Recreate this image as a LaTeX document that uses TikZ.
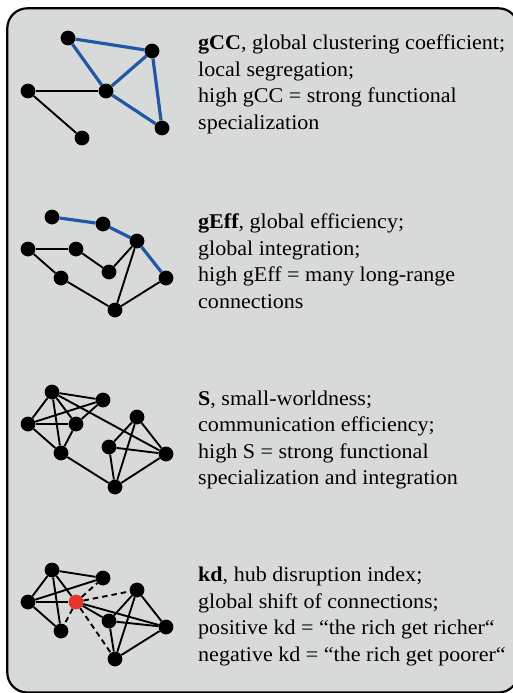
\documentclass[tikz,border=0pt]{standalone}
\usepackage{fontspec}
\setmainfont{Liberation Serif}[FakeStretch=1.05]
\definecolor{panel}{RGB}{216,218,218}
\definecolor{edgeblue}{RGB}{33,87,165}
\definecolor{hubred}{RGB}{232,50,45}
\begin{document}
\begin{tikzpicture}[x=1pt,y=-1pt,
  dot/.style={circle,fill=black,inner sep=0pt,minimum size=14.8pt},
  hub/.style={dot,fill=hubred},
  ln/.style={line width=1.9pt},
  lnthick/.style={line width=2.9pt},
  lnblue/.style={line width=3.2pt,draw=edgeblue},
  lndash/.style={line width=1.9pt,dash pattern=on 5.5pt off 4pt},
  lbl/.style={anchor=base west,inner sep=0pt,font=\fontsize{21}{26.5}\selectfont}]
\useasboundingbox (0,0) rectangle (512,693);
\draw[fill=panel,line width=2.2pt,rounded corners=20pt] (7.3,8.3) rectangle (518.5,692.5);

% ---------- graph 1: gCC
\node[dot] (A) at (68,38) {};
\node[dot] (B) at (152,51) {};
\node[dot] (C) at (106,91) {};
\node[dot] (D) at (28,91) {};
\node[dot] (E) at (162,128) {};
\node[dot] (F) at (82,138) {};
\draw[lnblue] (A) -- (B);
\draw[lnblue] (A) -- (C);
\draw[lnblue] (B) -- (C);
\draw[lnblue] (B) -- (E);
\draw[lnblue] (C) -- (E);
\draw[lnthick] (D) -- (C);
\draw[ln] (D) -- (F);

% ---------- graph 2: gEff
\node[dot] (a) at (52,217) {};
\node[dot] (b) at (103,224) {};
\node[dot] (c) at (137,241) {};
\node[dot] (d) at (28,249) {};
\node[dot] (e) at (76,249) {};
\node[dot] (f) at (109,272) {};
\node[dot] (g) at (61,278) {};
\node[dot] (h) at (166,278) {};
\node[dot] (i) at (115,310) {};
\draw[lnblue] (a) -- (b);
\draw[lnblue] (b) -- (c);
\draw[lnblue] (c) -- (h);
\draw[lnthick] (d) -- (e);
\draw[ln] (e) -- (f);
\draw[ln] (f) -- (c);
\draw[ln] (d) -- (g);
\draw[ln] (g) -- (i);
\draw[ln] (c) -- (i);
\draw[ln] (i) -- (h);

% ---------- graph 3: S
\node[dot] (n1) at (52,392) {};
\node[dot] (n2) at (103,400) {};
\node[dot] (n3) at (28,424) {};
\node[dot] (n4) at (76,424) {};
\node[dot] (n5) at (61,453) {};
\node[dot] (n6) at (137,417) {};
\node[dot] (n7) at (109,447) {};
\node[dot] (n8) at (166,454) {};
\node[dot] (n9) at (115,487) {};
\draw[ln] (n1) -- (n2);
\draw[ln] (n1) -- (n3);
\draw[ln] (n1) -- (n4);
\draw[ln] (n1) -- (n5);
\draw[ln] (n3) -- (n2);
\draw[lnthick] (n3) -- (n4);
\draw[ln] (n4) -- (n2);
\draw[ln] (n3) -- (n5);
\draw[ln] (n4) -- (n5);
\draw[ln] (n1) -- (n8);
\draw[ln] (n5) -- (n9);
\draw[ln] (n6) -- (n7);
\draw[ln] (n6) -- (n9);
\draw[ln] (n6) -- (n8);
\draw[ln] (n7) -- (n8);
\draw[ln] (n7) -- (n9);
\draw[ln] (n9) -- (n8);

% ---------- graph 4: kd
\node[dot] (m1) at (52,570) {};
\node[dot] (m2) at (103,578) {};
\node[dot] (m3) at (28,602) {};
\node[hub] (R) at (76,602) {};
\node[dot] (m5) at (61,631) {};
\node[dot] (m6) at (137,590) {};
\node[dot] (m7) at (109,621) {};
\node[dot] (m8) at (166,627) {};
\node[dot] (m9) at (115,659) {};
\draw[ln] (m1) -- (m2);
\draw[ln] (m1) -- (m3);
\draw[ln] (m1) -- (m5);
\draw[ln] (m1) -- (R);
\draw[ln] (m3) -- (m2);
\draw[lnthick] (m3) -- (R);
\draw[ln] (m3) -- (m5);
\draw[lndash] (R) -- (m2);
\draw[lndash] (R) -- (m6);
\draw[lndash] (R) -- (m5);
\draw[lndash] (R) -- (m9);
\draw[ln] (R) -- (m7);
\draw[ln] (R) -- (m8);
\draw[ln] (m6) -- (m7);
\draw[ln] (m6) -- (m9);
\draw[ln] (m6) -- (m8);
\draw[ln] (m7) -- (m8);
\draw[ln] (m7) -- (m9);
\draw[ln] (m9) -- (m8);

% ---------- texts
\node[lbl] (t11) at (198,49.5) {\textbf{gCC}, global clustering coefficient;};
\node[lbl] (t12) at (198,76) {local segregation;};
\node[lbl] (t13) at (198,102.5) {high gCC = strong functional};
\node[lbl] (t14) at (198,129) {specialization};

\node[lbl] (t21) at (198,228.5) {\textbf{gEff}, global efficiency;};
\node[lbl] (t22) at (198,255) {global integration;};
\node[lbl] (t23) at (198,281.5) {high gEff = many long-range};
\node[lbl] (t24) at (198,308) {connections};

\node[lbl] (t31) at (198,405) {\textbf{S}, small-worldness;};
\node[lbl] (t32) at (198,431.5) {communication efficiency;};
\node[lbl] (t33) at (198,458) {high S = strong functional};
\node[lbl] (t34) at (198,484.5) {specialization and integration};

\node[lbl] (t41) at (198,581.5) {\textbf{kd}, hub disruption index;};
\node[lbl] (t42) at (198,608) {global shift of connections;};
\node[lbl] (t43) at (198,634.5) {positive kd = “the rich get richer“};
\node[lbl] (t44) at (198,661) {negative kd = “the rich get poorer“};
\end{tikzpicture}
\end{document}
